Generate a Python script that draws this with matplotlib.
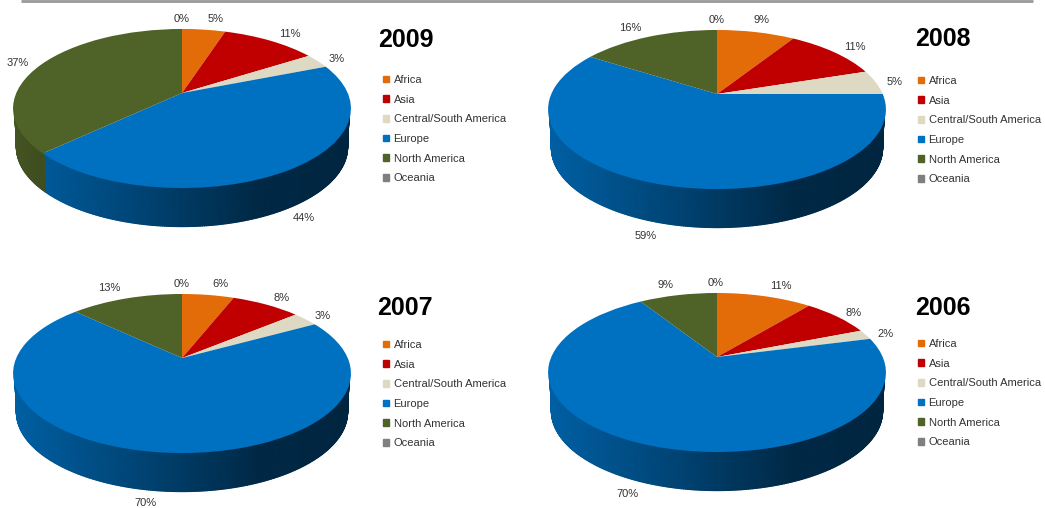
import numpy as np
import matplotlib
matplotlib.use('Agg')
import matplotlib.pyplot as plt
from matplotlib.collections import PolyCollection
from matplotlib.colors import to_rgb
from matplotlib.patches import Patch
from matplotlib.transforms import Transform

plt.rcParams['font.family'] = ['Liberation Sans', 'DejaVu Sans']

regions = ['Africa', 'Asia', 'Central/South America', 'Europe', 'North America', 'Oceania']
colors = ['#E36C09', '#C00000', '#DDD9C3', '#0070C0', '#4F6228', '#7F7F7F']

share_2009 = [5, 11, 3, 44, 37, 0]
share_2008 = [9, 11, 5, 59, 16, 0]
share_2007 = [6, 8, 3, 70, 13, 0]
share_2006 = [11, 8, 2, 70, 9, 0]

W, H = 1045, 508
DEPTH = 39


class Tilt(Transform):
    # unit circle -> pixels, a bit of perspective so the far half looks smaller
    input_dims = 2
    output_dims = 2

    def __init__(self, cx, cy):
        super().__init__()
        self.cx = cx
        self.cy = cy

    def transform_non_affine(self, values):
        values = np.asarray(values, dtype=float)
        d = 1 + 0.195 * values[:, 1]
        return np.column_stack([self.cx + 165.7 * values[:, 0] / d,
                                self.cy - 76.5 * values[:, 1] / d])


def draw_side(ax, tilt, wedges):
    polys, cols = [], []
    for wedge, c in zip(wedges, colors):
        n = max(2, int(abs(wedge.theta2 - wedge.theta1) / 0.6) + 2)
        a = np.radians(np.linspace(wedge.theta1, wedge.theta2, n))
        # pull the upper edge in a little so the strokes stay under the lid
        top = tilt.transform_non_affine(np.column_stack([0.99 * np.cos(a), 0.99 * np.sin(a)]))
        low = tilt.transform_non_affine(np.column_stack([np.cos(a), np.sin(a)]))
        low[:, 0] = tilt.cx + (low[:, 0] - tilt.cx) * 0.98
        low[:, 1] += DEPTH - 0.5
        for i in range(n - 1):
            if np.sin(a[i]) > -0.12 and np.sin(a[i + 1]) > -0.12:
                continue
            polys.append([top[i], top[i + 1], low[i + 1], low[i]])
            pos = (top[i, 0] - tilt.cx) / 169
            shade = np.interp(pos, [-1, -0.3, 0.45, 1], [0.85, 0.62, 0.36, 0.33])
            cols.append(np.array(to_rgb(c)) * shade)
    ax.add_collection(PolyCollection(polys, facecolors=cols, edgecolors=cols,
                                     linewidths=0.9, zorder=1))


def draw_pie(ax, values, cx, cy, year, year_xy, legend_xy, label_xy):
    tilt = Tilt(cx, cy)
    wedges, _ = ax.pie(values, colors=colors, startangle=90, counterclock=False,
                       wedgeprops={'linewidth': 0})
    for wedge in wedges:
        wedge.set_transform(tilt + ax.transData)
        wedge.set_zorder(2)
    draw_side(ax, tilt, wedges)

    for v, (x, y) in zip(values, label_xy):
        ax.text(x, y, '%d%%' % v, fontsize=8, color='#333333', ha='center', va='center')
    ax.text(year_xy[0], year_xy[1], year, fontsize=18, fontweight='bold', color='black',
            ha='left', va='center')

    handles = [Patch(color=c, label=r) for c, r in zip(colors, regions)]
    fig.legend(handles=handles, loc='upper left', frameon=False, fontsize=8,
               bbox_to_anchor=(legend_xy[0] / W, 1 - legend_xy[1] / H),
               borderaxespad=0, borderpad=0, handlelength=0.55, handleheight=0.55,
               handletextpad=0.4, labelspacing=0.87, labelcolor='#333333')


fig = plt.figure(figsize=(W / 100, H / 100), dpi=100)
ax = fig.add_axes([0, 0, 1, 1])

draw_pie(ax, share_2009, 182, 93, '2009', (378, 40), (383, 75),
         [(216, 19), (290, 34), (337, 59), (304, 218), (18, 63), (182, 19)])
draw_pie(ax, share_2008, 717, 94, '2008', (915, 39), (918, 76),
         [(762, 20), (855, 47), (895, 82), (646, 236), (630, 28), (717, 20)])
draw_pie(ax, share_2007, 182, 358, '2007', (377, 308), (383, 340),
         [(220, 284), (282, 298), (323, 316), (145, 503), (109, 288), (182, 284)])
draw_pie(ax, share_2006, 717, 357, '2006', (915, 308), (918, 339),
         [(781, 286), (854, 313), (885, 334), (627, 494), (665, 285), (716, 283)])

ax.set_aspect('auto')
ax.set_xlim(0, W)
ax.set_ylim(H, 0)
ax.axis('off')
# grey rule along the top of the slide
ax.plot([21, 1033], [1, 1], color='#999999', lw=2, solid_capstyle='butt', zorder=3)

fig.savefig('out.png', dpi=100)
